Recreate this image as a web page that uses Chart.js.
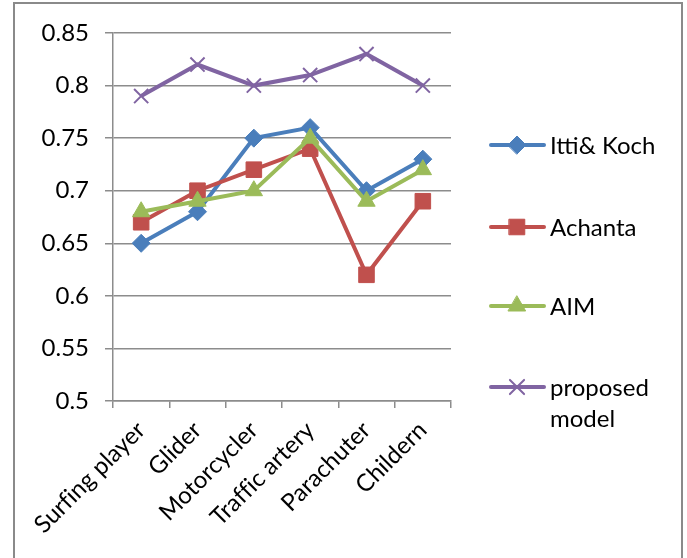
<!DOCTYPE html>
<html>
<head>
<meta charset="utf-8">
<script src="https://cdn.jsdelivr.net/npm/chart.js@4/dist/chart.umd.min.js"></script>
<style>
  html, body { margin: 0; padding: 0; background: #fff; overflow: hidden; }
  #wrap { position: relative; width: 687px; height: 558px; }
  #frame {
    position: absolute; left: 13px; top: 2px; width: 670px; height: 600px;
    border: 2px solid #8a8a8a; box-sizing: border-box;
  }
  canvas { position: absolute; left: 0; top: 0; }
</style>
</head>
<body>
<div id="wrap">
  <div id="frame"></div>
  <canvas id="myChart" width="687" height="558"></canvas>
</div>
<script>
  // \u200c keeps "fi" / "ffi" from turning into ligatures
  const categories = ['Surf\u200cing player', 'Glider', 'Motorcycler', 'Traf\u200cf\u200cic artery', 'Parachuter', 'Childern'];
  const ittiKoch = [0.65, 0.68, 0.75, 0.76, 0.70, 0.73];
  const achanta = [0.67, 0.70, 0.72, 0.74, 0.62, 0.69];
  const aim = [0.68, 0.69, 0.70, 0.75, 0.69, 0.72];
  const proposed = [0.79, 0.82, 0.80, 0.81, 0.83, 0.80];
  const seriesNames = ['Itti& Koch', 'Achanta', 'AIM', ['proposed', 'model']];

  const FONT = 'Lato, "Open Sans", sans-serif';
  const gridGray = '#8c8c8c';

  function series(label, data, color, style, radius, order) {
    return {
      label: label,
      data: data,
      borderColor: color,
      backgroundColor: color,
      borderWidth: 4,
      pointStyle: style,
      pointRadius: radius,
      pointHoverRadius: radius,
      pointBorderColor: color,
      pointBackgroundColor: color,
      pointBorderWidth: style === 'crossRot' ? 2 : 1,
      tension: 0,
      order: order
    };
  }

  // legend on the right: short line with the marker in the middle, then the name
  const sideLegend = {
    id: 'sideLegend',
    afterDraw(chart) {
      const ctx = chart.ctx;
      const rows = [145, 227, 306, 387];
      ctx.save();
      chart.data.datasets.forEach((ds, i) => {
        const y = rows[i];
        ctx.strokeStyle = ds.borderColor;
        ctx.lineWidth = 4;
        ctx.lineCap = 'round';
        ctx.beginPath();
        ctx.moveTo(491, y);
        ctx.lineTo(544, y);
        ctx.stroke();
        ctx.fillStyle = ds.backgroundColor;
        ctx.strokeStyle = ds.borderColor;
        ctx.lineWidth = ds.pointBorderWidth;
        Chart.helpers.drawPoint(ctx, {
          pointStyle: ds.pointStyle,
          radius: ds.pointRadius,
          rotation: 0,
          borderWidth: ds.pointBorderWidth
        }, 517, y);
        ctx.fillStyle = '#000';
        ctx.font = '24px ' + FONT;
        ctx.textAlign = 'left';
        ctx.textBaseline = 'middle';
        const lines = Array.isArray(ds.label) ? ds.label : [ds.label];
        lines.forEach((t, k) => ctx.fillText(t, 550, y + 1 + k * 31));
      });
      ctx.restore();
    }
  };

  const data = {
    labels: categories,
    datasets: [
      series(seriesNames[0], ittiKoch, '#4a7ebb', 'rectRot', 9, 4),
      series(seriesNames[1], achanta, '#c0504d', 'rect', 11, 3),
      series(seriesNames[2], aim, '#9bbb59', 'triangle', 10, 2),
      series(seriesNames[3], proposed, '#8064a2', 'crossRot', 10, 1)
    ]
  };

  const config = {
    type: 'line',
    data,
    options: {
      responsive: false,
      animation: false,
      layout: { padding: { left: 14, top: 33, right: 236, bottom: 0 } },
      plugins: {
        legend: { display: false },
        tooltip: { enabled: false }
      },
      scales: {
        x: {
          offset: true,
          afterFit(scale) { scale.height = 157; },
          grid: {
            offset: true,
            drawOnChartArea: false,
            drawTicks: true,
            tickLength: 7,
            color: gridGray,
            lineWidth: 1.5
          },
          border: { color: gridGray, width: 1.5 },
          ticks: {
            color: '#000',
            font: { family: FONT, size: 24 },
            minRotation: 45,
            maxRotation: 45,
            autoSkip: false,
            padding: 8
          }
        },
        y: {
          min: 0.5,
          max: 0.85,
          afterFit(scale) { scale.width = 99; },
          grid: {
            color: gridGray,
            lineWidth: 1.5,
            drawTicks: true,
            tickLength: 8
          },
          border: { color: gridGray, width: 1.5 },
          ticks: {
            stepSize: 0.05,
            color: '#000',
            font: { family: FONT, size: 24 },
            padding: 16,
            callback: v => String(Math.round(v * 100) / 100)
          }
        }
      }
    },
    plugins: [sideLegend]
  };

  var myChart = new Chart(document.getElementById('myChart'), config);
</script>
</body>
</html>
